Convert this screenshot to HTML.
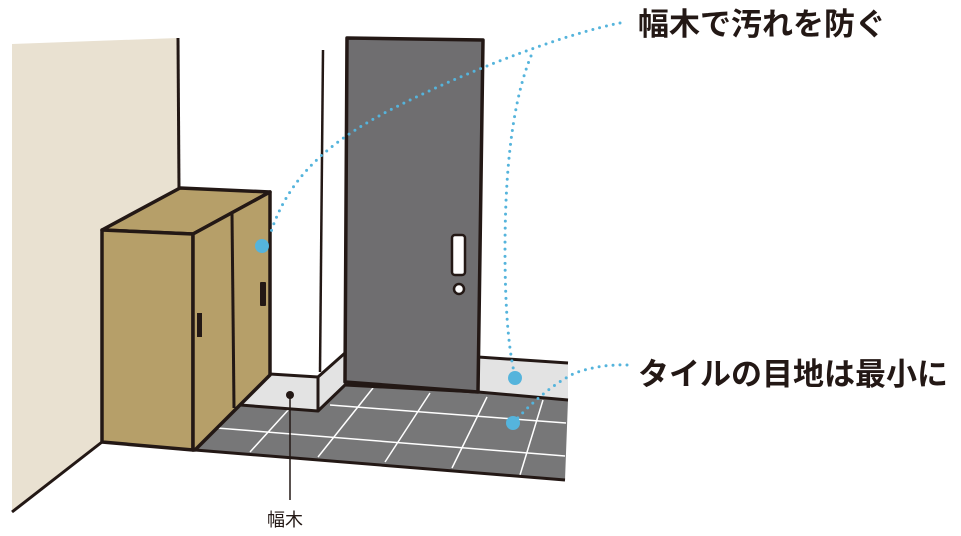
<!DOCTYPE html>
<html><head><meta charset="utf-8"><style>
html,body{margin:0;padding:0;background:#fff;width:961px;height:536px;overflow:hidden}
svg{display:block}
</style></head><body>
<svg width="961" height="536" viewBox="0 0 961 536" xmlns="http://www.w3.org/2000/svg">
<polygon points="12,44 178,38 178,190 102,232 102,442 12,512" fill="#e9e1d1"/>
<line x1="178" y1="38" x2="179" y2="189" stroke="#231815" stroke-width="3"/>
<line x1="102" y1="442" x2="12" y2="512" stroke="#231815" stroke-width="3"/>
<line x1="323" y1="50" x2="320" y2="372" stroke="#231815" stroke-width="2.5"/>
<polygon points="195,450 240,405 318,411 345,385 478,392 568,400 565,480" fill="#777778"/>
<g stroke="#fff" stroke-width="1.5" fill="none">
<line x1="217" y1="428" x2="565" y2="456"/>
<line x1="330" y1="405" x2="566" y2="423"/>
<line x1="250" y1="452" x2="290" y2="408"/>
<line x1="318" y1="457" x2="373" y2="388"/>
<line x1="385" y1="462" x2="430" y2="393"/>
<line x1="452" y1="468" x2="487" y2="397"/>
<line x1="520" y1="475" x2="543" y2="400"/>
</g>
<polygon points="240,405 270,374 318,377 318,411" fill="#e3e3e3"/>
<polygon points="318,377 345,353 345,385 318,411" fill="#e3e3e3"/>
<polygon points="478,357 568,363 568,400 478,392" fill="#e3e3e3"/>
<g stroke="#231815" stroke-width="3" fill="none" stroke-linejoin="round">
<polyline points="240,405 270,374 318,377 345,353"/>
<line x1="318" y1="376" x2="318" y2="412"/>
<polyline points="240,405 318,411 345,385 478,392 568,400"/>
<line x1="478" y1="357" x2="568" y2="363"/>
<polyline points="195,450 565,480"/>
</g>
<polygon points="347,38 483,40 478,392 345,382" fill="#6f6e70" stroke="#231815" stroke-width="3.5" stroke-linejoin="round"/>
<rect x="452" y="235" width="13" height="40" rx="3" fill="#fff" stroke="#231815" stroke-width="2.5"/>
<circle cx="459" cy="289" r="5" fill="#fff" stroke="#231815" stroke-width="2.5"/>
<g stroke="#231815" stroke-width="3.5" stroke-linejoin="round" fill="#b69f69">
<polygon points="102,230 180,188 270,192 193,234"/>
<polygon points="102,230 193,234 193,450 102,442"/>
<polygon points="193,234 270,192 270,375 195,450 193,450"/>
</g>
<line x1="232" y1="213" x2="234" y2="408" stroke="#231815" stroke-width="3"/>
<rect x="197" y="313" width="5" height="24" fill="#231815"/>
<rect x="260" y="282" width="6" height="24" rx="1" fill="#231815"/>
<circle cx="290" cy="395" r="4" fill="#231815"/>
<line x1="290" y1="395" x2="290" y2="500" stroke="#231815" stroke-width="1.5"/>
<text x="267" y="526" font-family="Liberation Sans, Noto Sans CJK JP, sans-serif" font-size="18" fill="#231815">幅木</text>
<g stroke="#55b4dc" stroke-width="3" stroke-linecap="round" stroke-dasharray="0 7" fill="none">
<path d="M620,23 C570,33 480,65 400,105 C340,135 290,170 270,235"/>
<path d="M531,56 Q505,120 505,250 Q505,330 514,372"/>
<path d="M513,423 Q545,388 575,373 Q600,364 628,365"/>
</g>
<circle cx="262" cy="246" r="7" fill="#55b4dc"/>
<circle cx="515" cy="378" r="7" fill="#55b4dc"/>
<circle cx="513" cy="423" r="7" fill="#55b4dc"/>
<text x="638" y="35" font-family="Liberation Sans, Noto Sans CJK JP, sans-serif" font-size="31" font-weight="bold" fill="#231815">幅木で汚れを防ぐ</text>
<text x="638" y="385" font-family="Liberation Sans, Noto Sans CJK JP, sans-serif" font-size="31" font-weight="bold" fill="#231815">タイルの目地は最小に</text>
</svg>
</body></html>
